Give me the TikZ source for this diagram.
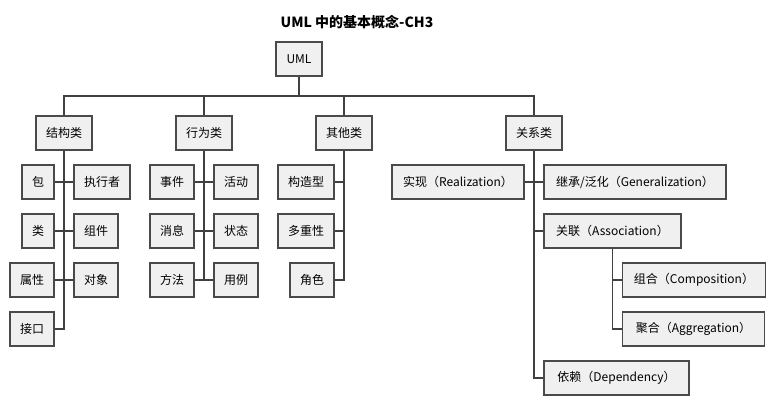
\documentclass[tikz,border=0pt]{standalone}
\usepackage{fontspec}
\setmainfont{Noto Sans CJK SC}
\definecolor{boxfill}{HTML}{F0F0F0}
\definecolor{boxline}{HTML}{4A4A4A}
\definecolor{conn}{HTML}{404040}
\tikzset{
  box/.style={draw=boxline, fill=boxfill, line width=1.3pt, inner sep=0pt,
    minimum height=34pt, font=\fontsize{12}{14}\selectfont, text=black},
  link/.style={draw=conn, line width=1.1pt}
}
\begin{document}
\begin{tikzpicture}[x=1pt,y=-1pt]
\useasboundingbox (0,0) rectangle (775,416);
\node[font=\fontsize{14}{16}\selectfont\bfseries] (title) at (357,22) {UML 中的基本概念-CH3};
\node[box, minimum width=46] (uml) at (299,59) {UML};
\coordinate (bus) at (299,96);
% level 1
\node[box, minimum width=56] (jgl) at (64,133) {结构类};
\node[box, minimum width=56] (xwl) at (204,133) {行为类};
\node[box, minimum width=56] (qtl) at (344,133) {其他类};
\node[box, minimum width=56] (gxl) at (534,133) {关系类};
\draw[link] (uml.south) -- (bus);
\draw[link] (jgl.north) -- (jgl.north |- bus) -- (gxl.north |- bus) -- (gxl.north);
\draw[link] (xwl.north) -- (xwl.north |- bus);
\draw[link] (qtl.north) -- (qtl.north |- bus);
% 结构类 children
\node[box, minimum width=32] (bao) at (38,182) {包};
\node[box, minimum width=56] (zxz) at (102,182) {执行者};
\node[box, minimum width=32] (lei) at (38,231) {类};
\node[box, minimum width=44] (zj) at (96,231) {组件};
\node[box, minimum width=44] (sx) at (32,280) {属性};
\node[box, minimum width=44] (dx) at (96,280) {对象};
\node[box, minimum width=44] (jk) at (32,329) {接口};
\draw[link] (jgl.south) -- (jgl.south |- jk.east) -- (jk.east);
\draw[link] (bao.east) -- (bao.east -| jgl.south) -- (zxz.west);
\draw[link] (lei.east) -- (lei.east -| jgl.south) -- (zj.west);
\draw[link] (sx.east) -- (sx.east -| jgl.south) -- (dx.west);
% 行为类 children
\node[box, minimum width=44] (sj) at (172,182) {事件};
\node[box, minimum width=44] (hd) at (236,182) {活动};
\node[box, minimum width=44] (xx) at (172,231) {消息};
\node[box, minimum width=44] (zt) at (236,231) {状态};
\node[box, minimum width=44] (ff) at (172,280) {方法};
\node[box, minimum width=44] (yl) at (236,280) {用例};
\draw[link] (xwl.south) -- (xwl.south |- ff.east);
\draw[link] (sj.east) -- (hd.west);
\draw[link] (xx.east) -- (zt.west);
\draw[link] (ff.east) -- (yl.west);
% 其他类 children
\node[box, minimum width=56] (gzx) at (306,182) {构造型};
\node[box, minimum width=56] (dcx) at (306,231) {多重性};
\node[box, minimum width=44] (js) at (312,280) {角色};
\draw[link] (qtl.south) -- (qtl.south |- js.east) -- (js.east);
\draw[link] (gzx.east) -- (gzx.east -| qtl.south);
\draw[link] (dcx.east) -- (dcx.east -| qtl.south);
% 关系类 children
\node[box, minimum width=132] (sx2) at (458,182) {实现（Realization）};
\node[box, minimum width=182] (jc) at (635,182) {继承/泛化（Generalization）};
\node[box, minimum width=137] (gl) at (612.5,231) {关联（Association）};
\node[box, minimum width=143] (zh) at (694,280) {组合（Composition）};
\node[box, minimum width=142] (jh) at (693.5,329) {聚合（Aggregation）};
\node[box, minimum width=145] (yl2) at (616.5,378) {依赖（Dependency）};
\draw[link] (gxl.south) -- (gxl.south |- yl2.west) -- (yl2.west);
\draw[link] (sx2.east) -- (jc.west);
\draw[link] (gl.west) -- (gl.west -| gxl.south);
\draw[link] (gl.south) -- (gl.south |- jh.west) -- (jh.west);
\draw[link] (zh.west) -- (zh.west -| gl.south);
\end{tikzpicture}
\end{document}
